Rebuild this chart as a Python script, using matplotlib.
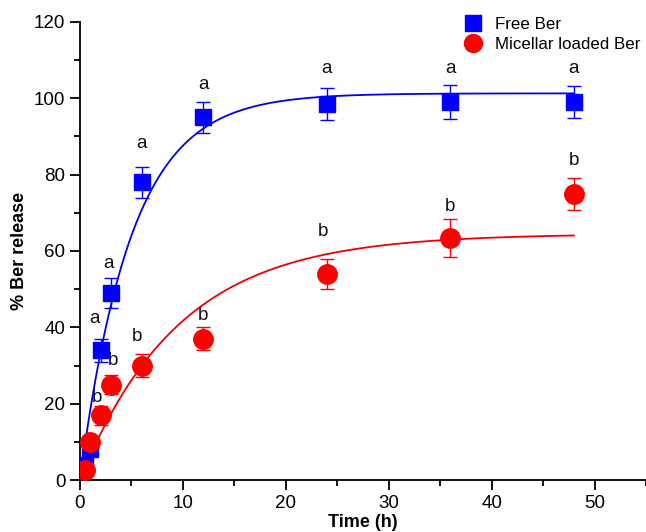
import numpy as np
import matplotlib
matplotlib.use("Agg")
import matplotlib.pyplot as plt
from matplotlib.ticker import MultipleLocator
from matplotlib.lines import Line2D

plt.rcParams['font.family'] = ['Liberation Sans', 'DejaVu Sans']

# data
time_h = [0.5, 1, 2, 3, 6, 12, 24, 36, 48]
free_ber = [4, 8, 34, 49, 78, 95, 98.5, 99, 99]
free_err = [1, 1.5, 3, 4, 4, 4, 4.3, 4.5, 4.2]
mic_ber = [2.7, 10, 17, 25, 30, 37, 54, 63.5, 75]
mic_err = [1, 1.5, 2.5, 2.5, 3, 3, 4, 5, 4.2]

# first-order fit parameters: y = A * (1 - exp(-k t))
free_A, free_k = 101.3, 0.2
mic_A, mic_k = 64.5, 0.104
fit_start, fit_end = 0.5, 48

# significance letters (x, y in data coords)
free_letter_xy = [(1.4, 40), (2.8, 54.5), (6, 86), (12, 101.5), (24, 105.5), (36, 105.5), (48, 105.5)]
mic_letter_xy = [(1.7, 19.5), (3.2, 29), (5.5, 35.5), (12, 41), (23.6, 63), (36, 69.5), (48, 81.5)]

fig = plt.figure(figsize=(6.46, 5.32), dpi=100)
ax = fig.add_axes([0.1238, 0.0977, 0.8762, 0.861])

t = np.linspace(fit_start, fit_end, 400)
ax.plot(t, free_A * (1 - np.exp(-free_k * t)), color='#0000ee', lw=1.3, zorder=2)
ax.plot(t, mic_A * (1 - np.exp(-mic_k * t)), color='#ee0000', lw=1.3, zorder=2)

ax.errorbar(time_h, free_ber, yerr=free_err, fmt='s', color='#0000ff', ms=12,
            ecolor='#0000ff', elinewidth=1, capsize=5, capthick=1, zorder=3)
ax.errorbar(time_h, mic_ber, yerr=mic_err, fmt='o', color='#ff0000', ms=14,
            ecolor='#ff0000', elinewidth=1, capsize=5, capthick=1, zorder=4)

for (x, y) in free_letter_xy:
    ax.text(x, y, 'a', fontsize=13.5, ha='center', va='bottom', color='#111111')
for (x, y) in mic_letter_xy:
    ax.text(x, y, 'b', fontsize=13.5, ha='center', va='bottom', color='#111111')

ax.set_xlim(0, 55)
ax.set_ylim(0, 120)
ax.xaxis.set_major_locator(MultipleLocator(10))
ax.xaxis.set_minor_locator(MultipleLocator(5))
ax.yaxis.set_major_locator(MultipleLocator(20))
ax.yaxis.set_minor_locator(MultipleLocator(10))
ax.spines['top'].set_visible(False)
ax.spines['right'].set_visible(False)
for s in ('left', 'bottom'):
    ax.spines[s].set_linewidth(1.3)
ax.tick_params(which='major', direction='out', length=7, width=1.3, labelsize=13.5)
ax.tick_params(which='minor', direction='out', length=4, width=1.3)

ax.set_xlabel('Time (h)', fontsize=13, fontweight='bold', labelpad=2)
ax.set_ylabel('% Ber release', fontsize=13, fontweight='bold', labelpad=4)

handles = [Line2D([], [], ls='none', marker='s', color='#0000ff', ms=12),
           Line2D([], [], ls='none', marker='o', color='#ff0000', ms=13)]
ax.legend(handles, ['Free Ber', 'Micellar loaded Ber'], loc='upper left',
          bbox_to_anchor=(0.665, 1.025), frameon=False, fontsize=12.2,
          handletextpad=0.65, handlelength=1.2, labelspacing=0.25, borderaxespad=0)
ax.set_clip_on(False)

fig.savefig('out.png', dpi=100)
